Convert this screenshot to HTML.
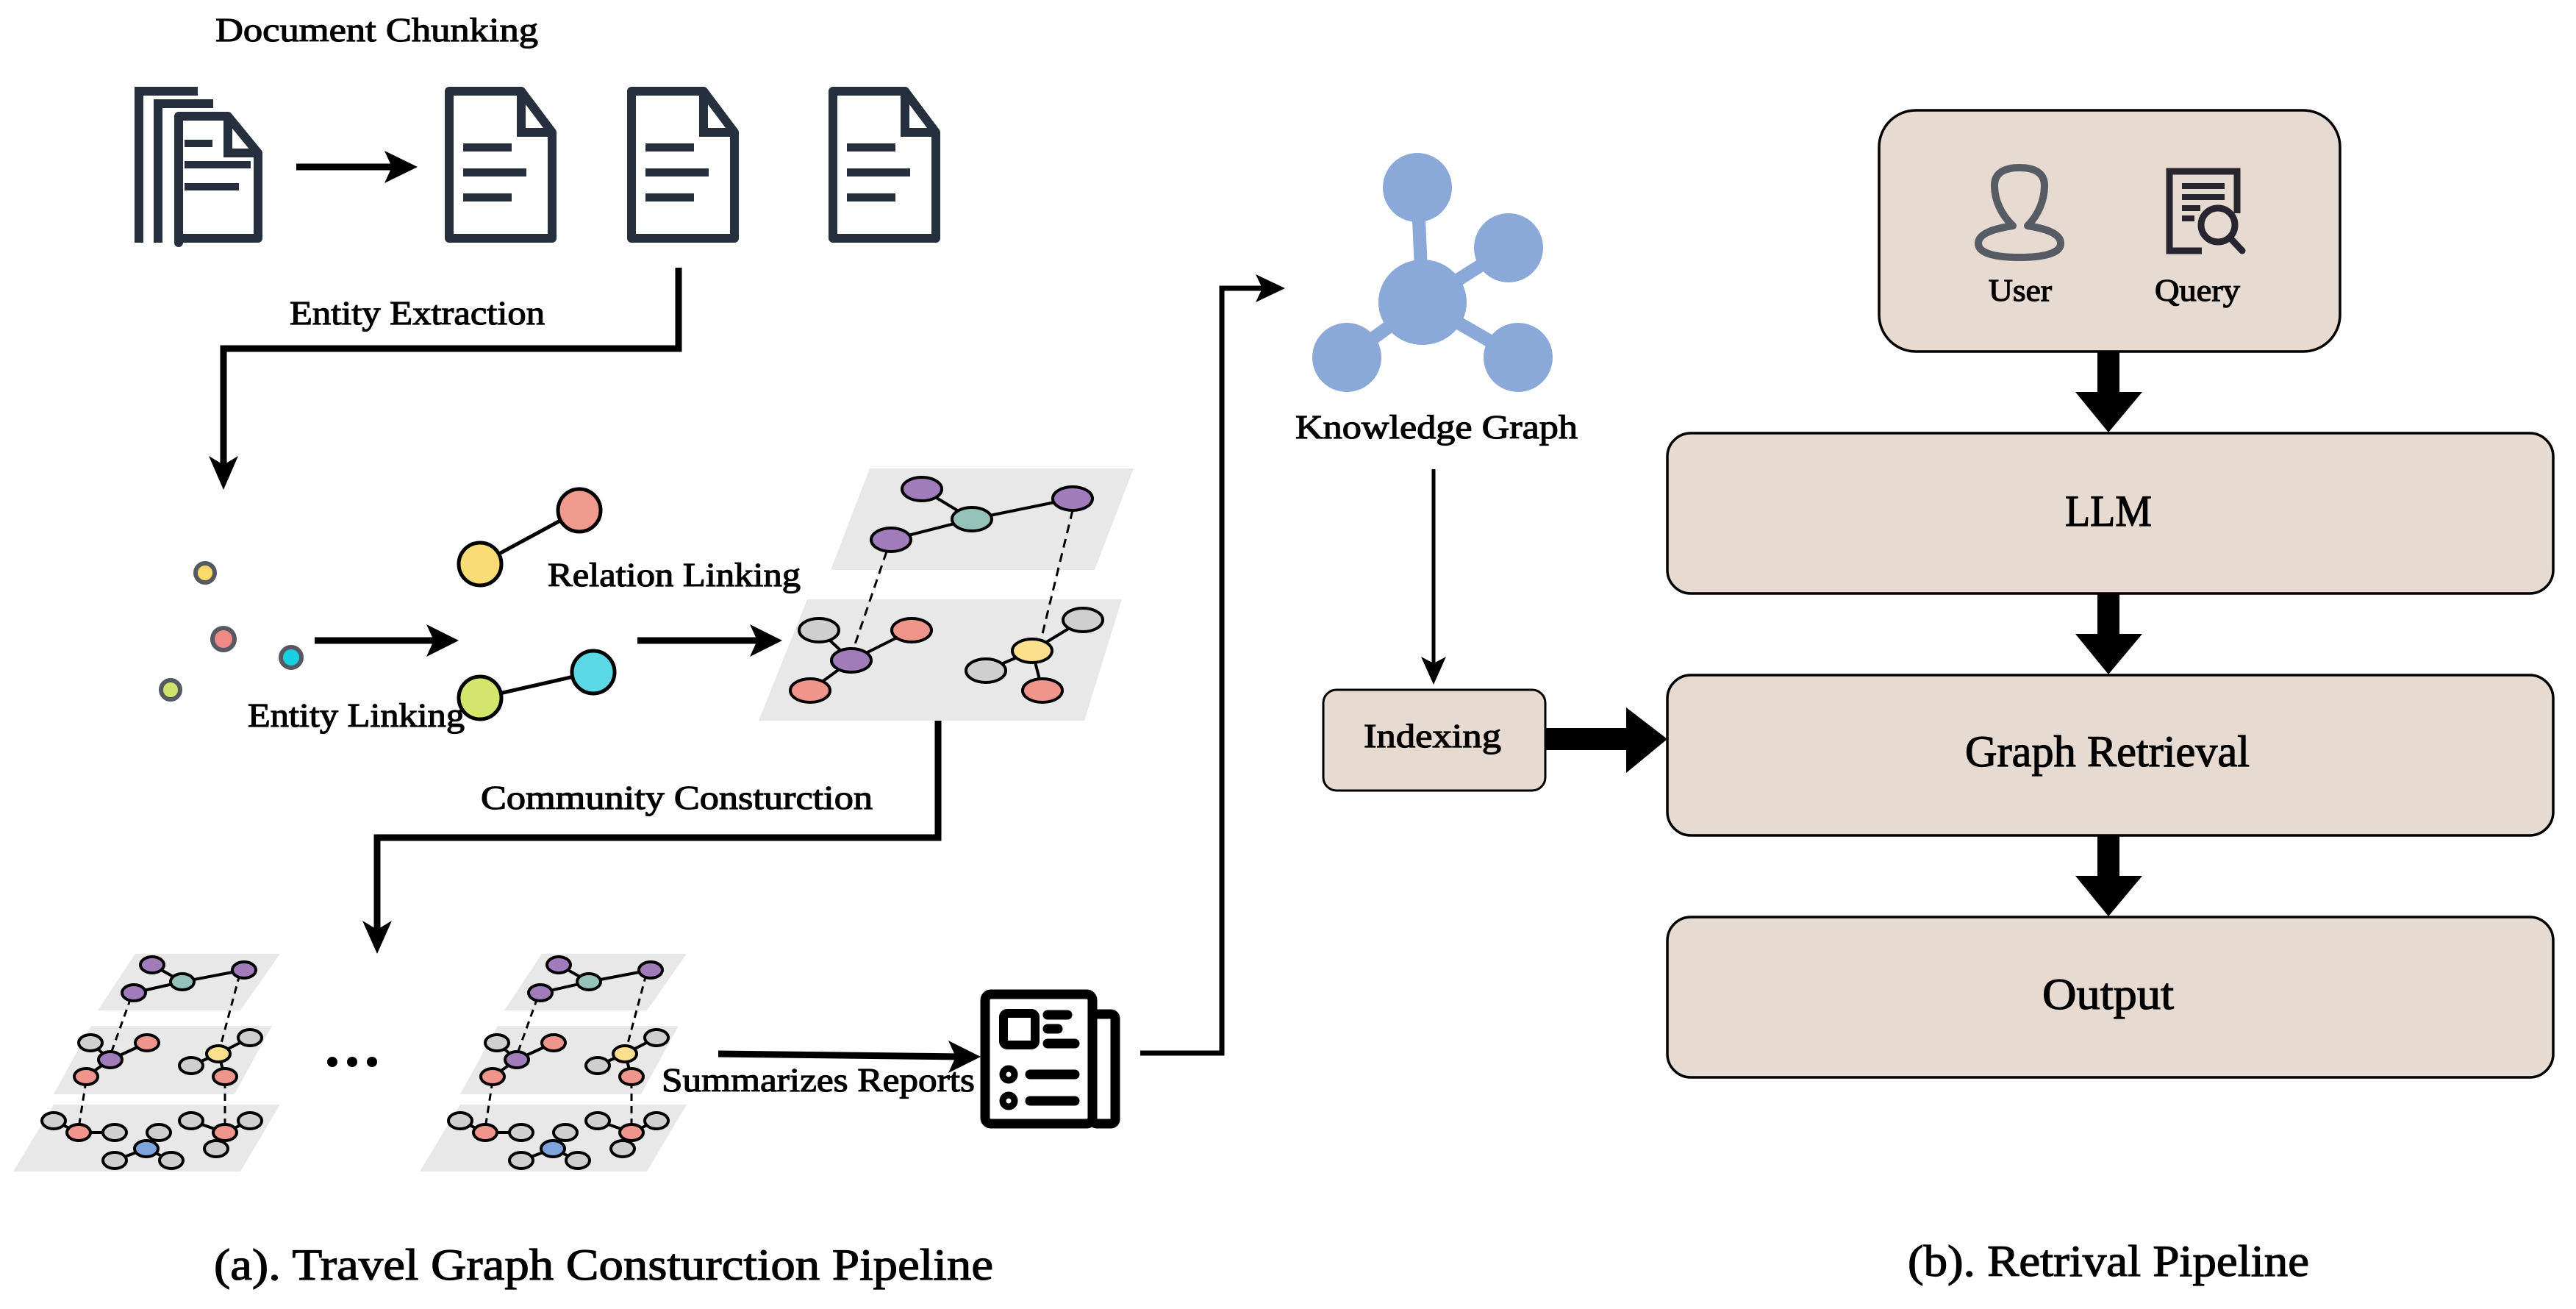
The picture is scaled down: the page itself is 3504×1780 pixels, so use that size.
<!DOCTYPE html>
<html><head><meta charset="utf-8"><style>
html,body{margin:0;padding:0;background:#fff;}
svg{display:block;}
text{font-family:"Liberation Serif",serif;fill:#000;stroke:#000;stroke-width:1.2px;}
</style></head><body>
<svg width="3504" height="1780" viewBox="0 0 3504 1780" xmlns="http://www.w3.org/2000/svg">
<defs>
<g id="doc">
  <path d="M6,6 H104 L146,62 V206 H6 Z" fill="none" stroke="#252f3e" stroke-width="12" stroke-linejoin="round"/>
  <path d="M104,6 V62 H146" fill="none" stroke="#252f3e" stroke-width="12"/>
  <rect x="25" y="77" width="66" height="11" fill="#252f3e"/>
  <rect x="25" y="111" width="86" height="11" fill="#252f3e"/>
  <rect x="25" y="145" width="66" height="11" fill="#252f3e"/>
</g>
<g id="stack">
  <polygon points="184,1297 381,1297 327,1374 133,1374" fill="#e8e8e8"/>
  <polygon points="124,1395 370,1395 319,1488 73,1488" fill="#e8e8e8"/>
  <polygon points="73,1502 381,1502 327,1593 18,1593" fill="#e8e8e8"/>
  <g stroke="#000" stroke-width="4" fill="none">
    <line x1="207" y1="1312" x2="248" y2="1335"/><line x1="248" y1="1335" x2="332" y2="1319"/><line x1="248" y1="1335" x2="182" y2="1350"/>
    <line x1="123" y1="1418" x2="150" y2="1441"/><line x1="200" y1="1418" x2="150" y2="1441"/><line x1="150" y1="1441" x2="117" y2="1464"/>
    <line x1="297" y1="1433" x2="340" y2="1411"/><line x1="297" y1="1433" x2="260" y2="1449"/><line x1="297" y1="1433" x2="306" y2="1464"/>
    <line x1="73" y1="1524" x2="107" y2="1540"/><line x1="107" y1="1540" x2="156" y2="1540"/>
    <line x1="199" y1="1562" x2="216" y2="1540"/><line x1="199" y1="1562" x2="156" y2="1578"/><line x1="199" y1="1562" x2="233" y2="1578"/>
    <line x1="260" y1="1524" x2="306" y2="1540"/><line x1="306" y1="1540" x2="340" y2="1524"/><line x1="306" y1="1540" x2="294" y2="1562"/>
  </g>
  <g stroke="#000" stroke-width="3" stroke-dasharray="10,7">
    <line x1="178" y1="1357" x2="150" y2="1435"/><line x1="326" y1="1325" x2="299" y2="1426"/>
    <line x1="117" y1="1470" x2="107" y2="1534"/><line x1="306" y1="1470" x2="306" y2="1534"/>
  </g>
  <g stroke="#000" stroke-width="4">
    <ellipse cx="207" cy="1312" rx="16" ry="11" fill="#a07dba"/>
    <ellipse cx="248" cy="1335" rx="16" ry="11" fill="#96c3b9"/>
    <ellipse cx="332" cy="1319" rx="16" ry="11" fill="#a07dba"/>
    <ellipse cx="182" cy="1350" rx="16" ry="11" fill="#a07dba"/>
    <ellipse cx="123" cy="1418" rx="16" ry="11" fill="#cfcfcf"/>
    <ellipse cx="200" cy="1418" rx="16" ry="11" fill="#ef958c"/>
    <ellipse cx="150" cy="1441" rx="16" ry="11" fill="#a07dba"/>
    <ellipse cx="117" cy="1464" rx="16" ry="11" fill="#ef958c"/>
    <ellipse cx="297" cy="1433" rx="16" ry="11" fill="#fde08e"/>
    <ellipse cx="340" cy="1411" rx="16" ry="11" fill="#cfcfcf"/>
    <ellipse cx="260" cy="1449" rx="16" ry="11" fill="#cfcfcf"/>
    <ellipse cx="306" cy="1464" rx="16" ry="11" fill="#ef958c"/>
    <ellipse cx="73" cy="1524" rx="16" ry="11" fill="#cfcfcf"/>
    <ellipse cx="107" cy="1540" rx="16" ry="11" fill="#ef958c"/>
    <ellipse cx="156" cy="1540" rx="16" ry="11" fill="#cfcfcf"/>
    <ellipse cx="216" cy="1540" rx="16" ry="11" fill="#cfcfcf"/>
    <ellipse cx="199" cy="1562" rx="16" ry="11" fill="#7ea4dc"/>
    <ellipse cx="156" cy="1578" rx="16" ry="11" fill="#cfcfcf"/>
    <ellipse cx="233" cy="1578" rx="16" ry="11" fill="#cfcfcf"/>
    <ellipse cx="260" cy="1524" rx="16" ry="11" fill="#cfcfcf"/>
    <ellipse cx="306" cy="1540" rx="16" ry="11" fill="#ef958c"/>
    <ellipse cx="340" cy="1524" rx="16" ry="11" fill="#cfcfcf"/>
    <ellipse cx="294" cy="1562" rx="16" ry="11" fill="#cfcfcf"/>
  </g>
</g>
</defs>

<text x="293" y="56" font-size="46" textLength="439" lengthAdjust="spacingAndGlyphs">Document Chunking</text>
<g fill="none" stroke="#252f3e" stroke-width="12">
  <path d="M189,330 V124 H269"/>
  <path d="M215,330 V141 H290"/>
  <path d="M243,330 V158 H310 L351,208 V324 H243 Z" stroke-linejoin="round"/>
  <path d="M310,158 V208 H351"/>
</g>
<rect x="251" y="190" width="38" height="10" fill="#252f3e"/>
<rect x="251" y="219" width="90" height="10" fill="#252f3e"/>
<rect x="251" y="249" width="74" height="10" fill="#252f3e"/>
<line x1="403" y1="227" x2="540" y2="227" stroke="#000" stroke-width="9"/>
<polygon points="568,227 523,205 533,227 523,249" fill="#000"/>
<use href="#doc" x="605" y="118"/>
<use href="#doc" x="853" y="118"/>
<use href="#doc" x="1127" y="118"/>

<polyline points="923,364 923,474 304,474 304,640" fill="none" stroke="#000" stroke-width="9"/>
<polygon points="304,666 284,620 304,632 324,620" fill="#000"/>
<text x="394" y="441" font-size="46" textLength="347" lengthAdjust="spacingAndGlyphs">Entity Extraction</text>

<g stroke="#555a62" stroke-width="6">
  <circle cx="279" cy="779" r="13" fill="#fbd96b"/>
  <circle cx="304" cy="869" r="15" fill="#f08a86"/>
  <circle cx="396" cy="894" r="14" fill="#18d0e3"/>
  <circle cx="232" cy="938" r="13" fill="#cfe36a"/>
</g>
<line x1="428" y1="871" x2="600" y2="871" stroke="#000" stroke-width="9"/>
<polygon points="624,871 580,849 590,871 580,893" fill="#000"/>

<g stroke="#000" stroke-width="5">
  <line x1="653" y1="767" x2="788" y2="694"/>
  <line x1="653" y1="949" x2="807" y2="914"/>
  <circle cx="653" cy="767" r="29" fill="#f8dc76"/>
  <circle cx="788" cy="694" r="29" fill="#f09a90"/>
  <circle cx="653" cy="949" r="29" fill="#d4e56d"/>
  <circle cx="807" cy="914" r="29" fill="#5ad8e5"/>
</g>
<text x="745" y="797" font-size="46" textLength="344" lengthAdjust="spacingAndGlyphs">Relation Linking</text>
<text x="337" y="988" font-size="46" textLength="295" lengthAdjust="spacingAndGlyphs">Entity Linking</text>
<line x1="867" y1="871" x2="1040" y2="871" stroke="#000" stroke-width="9"/>
<polygon points="1064,871 1020,849 1030,871 1020,893" fill="#000"/>

<polygon points="1183,637 1542,637 1489,775 1130,775" fill="#e8e8e8"/>
<polygon points="1098,815 1526,815 1475,980 1032,980" fill="#e8e8e8"/>
<g stroke="#000" stroke-width="4">
  <line x1="1254" y1="665" x2="1322" y2="706"/><line x1="1322" y1="706" x2="1459" y2="678"/><line x1="1322" y1="706" x2="1212" y2="734"/>
  <line x1="1114" y1="857" x2="1158" y2="898"/><line x1="1240" y1="857" x2="1158" y2="898"/><line x1="1158" y1="898" x2="1102" y2="939"/>
  <line x1="1404" y1="885" x2="1473" y2="843"/><line x1="1404" y1="885" x2="1341" y2="912"/><line x1="1404" y1="885" x2="1418" y2="939"/>
</g>
<g stroke="#000" stroke-width="3" stroke-dasharray="12,8">
  <line x1="1206" y1="750" x2="1160" y2="885"/><line x1="1459" y1="694" x2="1416" y2="870"/>
</g>
<g stroke="#000" stroke-width="4">
  <ellipse cx="1254" cy="665" rx="27" ry="16" fill="#a07dba"/>
  <ellipse cx="1322" cy="706" rx="27" ry="16" fill="#96c3b9"/>
  <ellipse cx="1459" cy="678" rx="27" ry="16" fill="#a07dba"/>
  <ellipse cx="1212" cy="734" rx="27" ry="16" fill="#a07dba"/>
  <ellipse cx="1114" cy="857" rx="27" ry="16" fill="#cfcfcf"/>
  <ellipse cx="1240" cy="857" rx="27" ry="16" fill="#ef958c"/>
  <ellipse cx="1158" cy="898" rx="27" ry="16" fill="#a07dba"/>
  <ellipse cx="1102" cy="939" rx="27" ry="16" fill="#ef958c"/>
  <ellipse cx="1404" cy="885" rx="27" ry="16" fill="#fde08e"/>
  <ellipse cx="1473" cy="843" rx="27" ry="16" fill="#cfcfcf"/>
  <ellipse cx="1341" cy="912" rx="27" ry="16" fill="#cfcfcf"/>
  <ellipse cx="1418" cy="939" rx="27" ry="16" fill="#ef958c"/>
</g>

<polyline points="1276,980 1276,1139 513,1139 513,1272" fill="none" stroke="#000" stroke-width="9"/>
<polygon points="513,1297 493,1252 513,1264 533,1252" fill="#000"/>
<text x="654" y="1100" font-size="46" textLength="533" lengthAdjust="spacingAndGlyphs">Community Consturction</text>

<use href="#stack" x="0" y="0"/>
<use href="#stack" x="553" y="0"/>
<circle cx="452" cy="1444" r="7" fill="#000"/>
<circle cx="479" cy="1444" r="7" fill="#000"/>
<circle cx="506" cy="1444" r="7" fill="#000"/>

<line x1="977" y1="1433" x2="1310" y2="1437" stroke="#000" stroke-width="9"/>
<polygon points="1334,1437 1290,1415 1300,1437 1290,1459" fill="#000"/>
<text x="900" y="1484" font-size="46" textLength="426" lengthAdjust="spacingAndGlyphs">Summarizes Reports</text>

<rect x="1486" y="1379" width="31" height="149" rx="6" fill="none" stroke="#000" stroke-width="13"/>
<rect x="1340" y="1352" width="146" height="176" rx="8" fill="#fff" stroke="#000" stroke-width="13"/>
<rect x="1365" y="1378" width="43" height="43" rx="5" fill="none" stroke="#000" stroke-width="12"/>
<g stroke="#000" stroke-width="13" stroke-linecap="round">
  <line x1="1425" y1="1380" x2="1452" y2="1380"/>
  <line x1="1425" y1="1399" x2="1439" y2="1399"/>
  <line x1="1425" y1="1419" x2="1462" y2="1419"/>
  <line x1="1401" y1="1461" x2="1462" y2="1461"/>
  <line x1="1401" y1="1497" x2="1462" y2="1497"/>
</g>
<circle cx="1372" cy="1461" r="8" fill="#fff" stroke="#000" stroke-width="9"/>
<circle cx="1372" cy="1497" r="8" fill="#fff" stroke="#000" stroke-width="9"/>

<polyline points="1551,1432 1662,1432 1662,392 1725,392" fill="none" stroke="#000" stroke-width="7"/>
<polygon points="1748,392 1708,373 1717,392 1708,411" fill="#000"/>

<text x="291" y="1740" font-size="60" textLength="1060" lengthAdjust="spacingAndGlyphs">(a). Travel Graph Consturction Pipeline</text>

<g fill="#8aa8d8" stroke="#8aa8d8" stroke-width="18">
  <line x1="1935" y1="411" x2="1928" y2="255"/>
  <line x1="1935" y1="411" x2="2052" y2="337"/>
  <line x1="1935" y1="411" x2="1832" y2="486"/>
  <line x1="1935" y1="411" x2="2065" y2="486"/>
</g>
<g fill="#8aa8d8">
  <ellipse cx="1935" cy="411" rx="60" ry="58"/>
  <ellipse cx="1928" cy="255" rx="47" ry="47"/>
  <ellipse cx="2052" cy="337" rx="47" ry="47"/>
  <ellipse cx="1832" cy="486" rx="47" ry="47"/>
  <ellipse cx="2065" cy="486" rx="47" ry="47"/>
</g>
<text x="1762" y="596" font-size="46" textLength="384" lengthAdjust="spacingAndGlyphs">Knowledge Graph</text>
<line x1="1950" y1="638" x2="1950" y2="905" stroke="#000" stroke-width="5"/>
<polygon points="1950,931 1933,893 1950,902 1967,893" fill="#000"/>

<rect x="1800" y="938" width="302" height="137" rx="18" fill="#e6dad1" stroke="#000" stroke-width="3"/>
<text x="1855" y="1016" font-size="46" textLength="187" lengthAdjust="spacingAndGlyphs">Indexing</text>
<rect x="2102" y="990" width="112" height="30" fill="#000"/>
<polygon points="2212,962 2268,1005 2212,1051" fill="#000"/>

<rect x="2556" y="150" width="627" height="328" rx="50" fill="#e6dad1" stroke="#000" stroke-width="3.5"/>
<g fill="none" stroke="#575b63" stroke-width="10" stroke-linejoin="round">
  <path d="M2738,307 C2722,292 2713,272 2713,252 C2713,235 2727,228 2747,228 C2767,228 2781,235 2781,252 C2781,272 2773,292 2758,307 C2790,312 2803,320 2803,331 C2803,345 2778,350 2747,350 C2716,350 2691,345 2691,331 C2691,320 2705,312 2738,307 Z"/>
</g>
<g fill="none" stroke="#27262f" stroke-width="9">
  <path d="M2995,341 H2951 V233 H3043 V290"/>
  <circle cx="3017" cy="306" r="23"/>
  <line x1="3033" y1="323" x2="3050" y2="341" stroke-linecap="round"/>
</g>
<g stroke="#27262f" stroke-width="8">
  <line x1="2968" y1="253" x2="3026" y2="253"/>
  <line x1="2968" y1="268" x2="3026" y2="268"/>
  <line x1="2968" y1="283" x2="2993" y2="283"/>
  <line x1="2968" y1="297" x2="2985" y2="297"/>
</g>
<text x="2705" y="409" font-size="42" textLength="86" lengthAdjust="spacingAndGlyphs">User</text>
<text x="2931" y="409" font-size="42" textLength="116" lengthAdjust="spacingAndGlyphs">Query</text>

<rect x="2268" y="589" width="1205" height="218" rx="32" fill="#e6dad1" stroke="#000" stroke-width="3.5"/>
<rect x="2268" y="918" width="1205" height="218" rx="32" fill="#e6dad1" stroke="#000" stroke-width="3.5"/>
<rect x="2268" y="1247" width="1205" height="218" rx="32" fill="#e6dad1" stroke="#000" stroke-width="3.5"/>
<text x="2809" y="715" font-size="60" textLength="118" lengthAdjust="spacingAndGlyphs">LLM</text>
<text x="2673" y="1042" font-size="60" textLength="387" lengthAdjust="spacingAndGlyphs">Graph Retrieval</text>
<text x="2778" y="1372" font-size="60" textLength="179" lengthAdjust="spacingAndGlyphs">Output</text>

<g fill="#000">
  <rect x="2853" y="479" width="30" height="56"/><polygon points="2823,533 2914,533 2868,588"/>
  <rect x="2853" y="808" width="30" height="56"/><polygon points="2823,862 2914,862 2868,917"/>
  <rect x="2853" y="1137" width="30" height="56"/><polygon points="2823,1191 2914,1191 2868,1246"/>
</g>

<text x="2595" y="1735" font-size="60" textLength="546" lengthAdjust="spacingAndGlyphs">(b). Retrival Pipeline</text>
</svg>
</body></html>
